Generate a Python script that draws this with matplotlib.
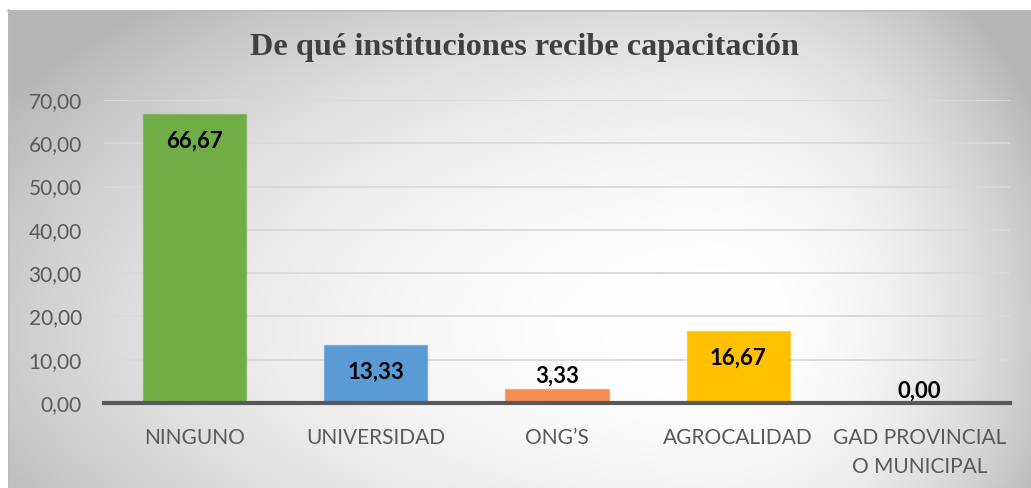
import numpy as np
import matplotlib
matplotlib.use("Agg")
import matplotlib.pyplot as plt

categories = ["NINGUNO", "UNIVERSIDAD", "ONG\u2019S", "AGROCALIDAD", "GAD PROVINCIAL\nO MUNICIPAL"]
values = [66.67, 13.33, 3.33, 16.67, 0.00]
colors = ["#70ad47", "#5b9bd5", "#f08f51", "#ffc000", "#a5a5a5"]
yticks = [0, 10, 20, 30, 40, 50, 60, 70]
title = "De qué instituciones recibe capacitación"

W, H = 1031, 488
fig = plt.figure(figsize=(W / 100, H / 100), dpi=100)

# background gradient
yy, xx = np.mgrid[0:H, 0:W].astype(float)
cx, cy = 720.0, 330.0
ax_l, ax_r, ay_t, ay_b = 760.0, 330.0, 400.0, 330.0
dx = np.where(xx < cx, (xx - cx) / ax_l, (xx - cx) / ax_r)
dy = np.where(yy < cy, (yy - cy) / ay_t, (yy - cy) / ay_b)
r = np.clip(np.sqrt(dx ** 2 + dy ** 2), 0, 1.1)
g = 1.0 - (1.0 - 0.77) * r ** 2.2
g[(xx < 8) | (yy < 10)] = 1.0
img = np.dstack([g, g, g])
bg = fig.add_axes([0, 0, 1, 1], zorder=-2)
bg.imshow(img, aspect="auto", extent=[0, W, H, 0], interpolation="bilinear")
bg.plot([8, W], [10.5, 10.5], color="#bcbcbc", lw=1.2)
bg.plot([8.5, 8.5], [10, H], color="#bcbcbc", lw=1.2)
bg.set_xlim(0, W)
bg.set_ylim(H, 0)
bg.axis("off")

font = "Lato"
ax = fig.add_axes([104 / W, 1 - 403 / H, (1010 - 104) / W, (403 - 100) / H])
ax.patch.set_alpha(0)
x = np.arange(len(categories))
ax.bar(x, values, width=0.57, color=colors,
       edgecolor=[matplotlib.colors.to_rgba(c, 0.5) for c in colors], linewidth=1, zorder=3)
ax.set_xlim(-0.5, len(categories) - 0.5)
ax.set_ylim(0, 70)
ax.set_yticks(yticks)
ax.set_yticklabels([f"{v:.2f}".replace(".", ",") for v in yticks], fontfamily=font, fontsize=15, color="#595959")
ax.set_xticks(x)
ax.set_xticklabels(categories, fontfamily=font, fontsize=15, color="#595959", linespacing=1.55)
ax.tick_params(length=0)
ax.tick_params(axis="y", pad=16)
ax.tick_params(axis="x", pad=18)
ax.yaxis.grid(True, color="#d9d9d9", lw=1.3, zorder=0)
for s in ["top", "right", "left"]:
    ax.spines[s].set_visible(False)
ax.spines["bottom"].set_color("#595959")
ax.spines["bottom"].set_linewidth(3)
ax.spines["bottom"].set_zorder(4)

for xi, v in zip(x, values):
    lab = f"{v:.2f}".replace(".", ",")
    off = -27 if v > 8 else 12
    ax.annotate(lab, (xi, v), xytext=(0, off), textcoords="offset pixels", ha="center", va="center",
                fontfamily=font, fontsize=16, fontweight="bold", color="black", zorder=5)

fig.text(525 / W, 1 - 48 / H, title, ha="center", va="center", fontfamily="Liberation Serif",
         fontsize=23.2, fontweight="bold", color="#404040")

fig.savefig("out.png", dpi=100)
